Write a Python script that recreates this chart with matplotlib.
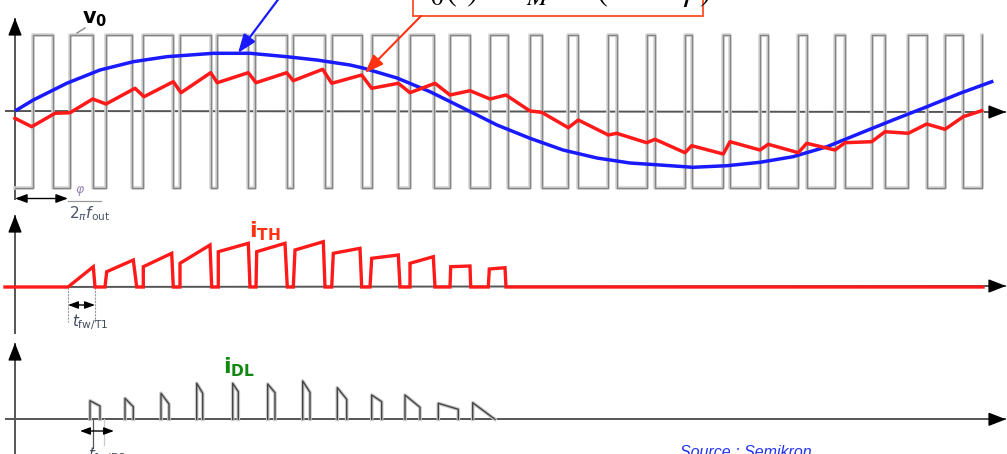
import matplotlib
matplotlib.use("Agg")
import matplotlib.pyplot as plt
import numpy as np
from matplotlib.patches import Rectangle

# ---------------- data (time axis in px-like units, values relative to baselines) ----------
# Panel 1: PWM output voltage v0 (switching instants)
v0_rise = [33.3, 70, 106, 142.7, 180, 217.3, 255, 293.3, 331.7, 371.7, 410, 450, 490,
           530, 568.3, 608.3, 646.7, 685, 723.3, 760, 798.3, 835, 871.7, 908.3, 945, 982]
v0_fall = [53.3, 93.3, 131.7, 172.7, 210.7, 248.3, 286.7, 325, 361.7, 398.3, 434, 470,
           508.3, 541.7, 578.3, 616.7, 655, 691.7, 730, 768.3, 806.7, 845, 885, 926.7, 963.3]
v0_high, v0_low = 76, -77
v0_start = 15

# Fundamental (blue) voltage
fund_t = [16.7, 33.3, 66.7, 100, 133.3, 166.7, 213.3, 250, 286.7, 316.7, 350, 363, 397, 430,
          463, 497, 530, 563, 597, 630, 660, 693, 727, 760, 793, 827, 860, 893, 927, 960, 991.7]
fund_v = [1, 11, 27.7, 41, 49.3, 54.3, 57.7, 57.7, 54.3, 51, 46, 43, 33, 19.3,
          3, -14, -27.3, -39, -47, -52, -54, -56.3, -54.7, -51.3, -45.7, -35.7, -22.3,
          -9, 4.3, 17.7, 29.3]

# Load current i0 (red)
i0_t = [15, 31.7, 55, 70, 92.7, 106, 135, 144, 173.3, 181, 210.7, 217.3, 248.3, 256, 286.7,
        293.3, 322.7, 331.7, 361.7, 371.7, 398.3, 410, 435, 450, 470, 490, 506, 530, 541.7,
        568.3, 578.3, 608.3, 616.7, 646.7, 655, 685, 691.7, 723.3, 730, 760, 768.3, 798.3,
        806.7, 835, 845, 871.7, 885, 908.3, 926.7, 945, 963.3, 981.7]
i0_v = [-7.3, -15.7, -2.3, -1.7, 12, 7, 22.7, 14.3, 29.3, 18.3, 38.3, 28.3, 38.3, 28.3, 38.3,
        30.3, 41.7, 27.7, 36, 22.7, 27.7, 18.3, 27.7, 16, 20.3, 12, 16, -0, -1.3,
        -16.7, -9, -24, -22.3, -31.7, -28.3, -41.7, -34.7, -43, -30.7, -39, -33.3, -41.7,
        -32.3, -39, -31.7, -30.7, -20.7, -22.3, -13, -18.3, -5.7, 0.3]

# Panel 2: thyristor/IGBT current iTH
ith_t = [5, 68, 93.3, 95, 105, 106.7, 133.3, 136.7, 143.3, 143.3, 171.7, 173.3, 180, 180,
         210, 211.7, 218.3, 218.3, 248.3, 250, 256, 256.7, 285, 287.3, 293.3, 295, 323.3, 325,
         331.7, 333.3, 360, 361.7, 370, 371.7, 398.3, 400, 410, 410, 433.3, 435, 450, 450.7,
         470, 470.7, 488.3, 489.3, 505, 506, 983]
ith_v = [0, 0, 20.3, 0, 0, 15.3, 27, 0, 0, 20.3, 33.7, 0, 0, 23.7,
         42, 0, 0, 35.3, 43.7, 0, 0, 35.3, 43.7, 0, 0, 37, 45.3, 0,
         0, 33.7, 38.7, 0, 0, 28.7, 32, 0, 0, 23.7, 30.3, 0, 0, 20.3,
         21, 0, 0, 18, 19.3, 0, 0]

# Panel 3: diode current iDL (rise instant, start height, fall instant, end height)
idl_rise = [90, 125, 161, 196.7, 232.7, 267.7, 302.7, 337.3, 371.7, 405, 438.3, 472.7]
idl_top0 = [18.6, 21, 26, 36, 36, 35.3, 38.3, 31.6, 24.3, 24.3, 16, 16.6]
idl_fall = [100, 133.3, 169, 202.7, 238.3, 275, 310, 346.7, 381.7, 420, 458.3, 495]
idl_top1 = [13.3, 12.6, 15.3, 26, 27.6, 26.6, 27, 20, 17.6, 12, 10, 0]

# Baselines of the three traces (figure px)
BASE1, BASE2, BASE3 = 111, 287, 419.3

# ---------------- figure ----------------
fig = plt.figure(figsize=(10.07, 4.54), dpi=100)
ax = fig.add_axes([0, 0, 1, 1])
ax.set_xlim(0, 1007)
ax.set_ylim(454, 0)
ax.axis('off')

AXC = '#555555'

def axis_arrow(x0, y0, x1, y1):
    ax.plot([x0, x1], [y0, y1], color=AXC, lw=1.4, zorder=1, solid_capstyle='butt')
    dx, dy = x1 - x0, y1 - y0
    n = np.hypot(dx, dy)
    ax.annotate('', xy=(x1, y1), xytext=(x1 - dx / n * 12, y1 - dy / n * 12),
                arrowprops=dict(arrowstyle='-|>,head_length=0.9,head_width=0.35',
                                color='black', lw=1.0, shrinkA=0, shrinkB=0,
                                mutation_scale=12), zorder=6)

# Axes of the three panels
axis_arrow(15, 200, 15, 18)
axis_arrow(5, BASE1, 1006, BASE1 + 1)
axis_arrow(15, 334, 15, 215)
axis_arrow(5, BASE2, 1006, BASE2 - 1)
axis_arrow(15, 454, 15, 343)
axis_arrow(5, BASE3, 1006, BASE3)

# ---- v0 square wave ----
xs, ys = [v0_start], [v0_low]
for k, r in enumerate(v0_rise):
    xs += [r, r]
    ys += [v0_low, v0_high]
    if k < len(v0_fall):
        f = v0_fall[k]
        xs += [f, f]
        ys += [v0_high, v0_low]
ax.plot(xs, [BASE1 - v for v in ys], color='#d4d4d4', lw=2.6, zorder=2)
ax.plot(xs, [BASE1 - v for v in ys], color='#858585', lw=1.0, zorder=2)

# fundamental & current
ax.plot(fund_t, [BASE1 - v for v in fund_v], color='#1a1aff', lw=2.5, zorder=4,
        solid_joinstyle='round')
ax.plot(i0_t, [BASE1 - v for v in i0_v], color='#ff1a1a', lw=2.5, zorder=5,
        solid_joinstyle='round')

# ---- iTH ----
ax.plot(ith_t, [BASE2 - v for v in ith_v], color='#ff1a1a', lw=2.4, zorder=5,
        solid_joinstyle='miter')

# ---- iDL ----
for r, a, f, b in zip(idl_rise, idl_top0, idl_fall, idl_top1):
    ax.plot([r, r, f, f], [BASE3, BASE3 - a, BASE3 - b, BASE3], color='#c8c8c8', lw=2.6, zorder=2)
    ax.plot([r, r, f, f], [BASE3, BASE3 - a, BASE3 - b, BASE3], color='#444444', lw=1.0, zorder=3)

# ---------------- annotations ----------------
# v0 label and leader
ax.text(82, 23, r'$\mathbf{v}_{\mathbf{0}}$', fontsize=15, color='black', va='baseline')
ax.plot([77, 85], [33, 28], color='#888888', lw=1)

# formula box (partly outside the picture)
ax.add_patch(Rectangle((413, -30), 290, 45.7, facecolor='white', edgecolor='#ff5a36',
                       lw=1.4, zorder=7))
ax.text(420, 1, r'$i_0(t) = \hat{I}_M\,\sin(\omega t - \varphi)$', fontsize=26,
        math_fontfamily='stix', color='black', va='baseline', ha='left', zorder=8)
ax.annotate('', xy=(365, 73), xytext=(421, 16),
            arrowprops=dict(arrowstyle='-|>,head_length=0.8,head_width=0.3',
                            color='#ff3311', lw=1.5, shrinkA=0, shrinkB=0,
                            mutation_scale=14), zorder=9)
# blue arrow from the (cut) label above
ax.annotate('', xy=(238, 53), xytext=(280, -3),
            arrowprops=dict(arrowstyle='-|>,head_length=0.8,head_width=0.3',
                            color='#1a1aff', lw=1.6, shrinkA=0, shrinkB=0,
                            mutation_scale=14), zorder=9)

# phi / 2 pi f_out
ax.annotate('', xy=(68, 198.5), xytext=(15, 198.5),
            arrowprops=dict(arrowstyle='<|-|>,head_length=0.6,head_width=0.22',
                            color='black', lw=1.0, shrinkA=0, shrinkB=0,
                            mutation_scale=12), zorder=6)
ax.plot([68, 101], [200.5, 200.5], color='#999999', lw=0.9)
ax.text(80, 193, r'$\varphi$', fontsize=9, color='#9a86b8', ha='center', va='baseline')
ax.text(69, 218, r'$2_{\pi}f_{\mathrm{out}}$', fontsize=11, color='#4a5568', va='baseline')

# iTH label
ax.text(249, 237, r'$\mathbf{i}_{\mathbf{TH}}$', fontsize=16, color='#ff3311', va='baseline')

# t_fw/T1
for xv in (68, 95):
    ax.plot([xv, xv], [BASE2, 322], color='#999999', lw=0.8, ls=(0, (2, 1)))
ax.annotate('', xy=(68, 305), xytext=(95, 305),
            arrowprops=dict(arrowstyle='<|-|>,head_length=0.6,head_width=0.22',
                            color='black', lw=1.0, shrinkA=0, shrinkB=0,
                            mutation_scale=10), zorder=6)
ax.text(72, 326, r'$t_{\mathrm{fw/T1}}$', fontsize=11, color='#404a5a', va='baseline')

# iDL label
ax.text(223, 373, r'$\mathbf{i}_{\mathbf{DL}}$', fontsize=16, color='#118811', va='baseline')

# t_fw/D2
ax.plot([93, 93], [BASE3, 448], color='#555555', lw=0.9)
ax.plot([104, 104], [BASE3, 445], color='#cccccc', lw=0.9)
ax.annotate('', xy=(80, 431), xytext=(114, 431),
            arrowprops=dict(arrowstyle='<|-|>,head_length=0.6,head_width=0.22',
                            color='black', lw=1.0, shrinkA=0, shrinkB=0,
                            mutation_scale=10), zorder=6)
ax.text(88, 459, r'$t_{\mathrm{fw/D2}}$', fontsize=11, color='#404a5a', va='baseline')

# Source
ax.text(680, 457, 'Source : Semikron', fontsize=11.5, fontstyle='italic',
        family='Liberation Sans', color='#2233ee', va='baseline')

fig.savefig('out.png', dpi=100)
